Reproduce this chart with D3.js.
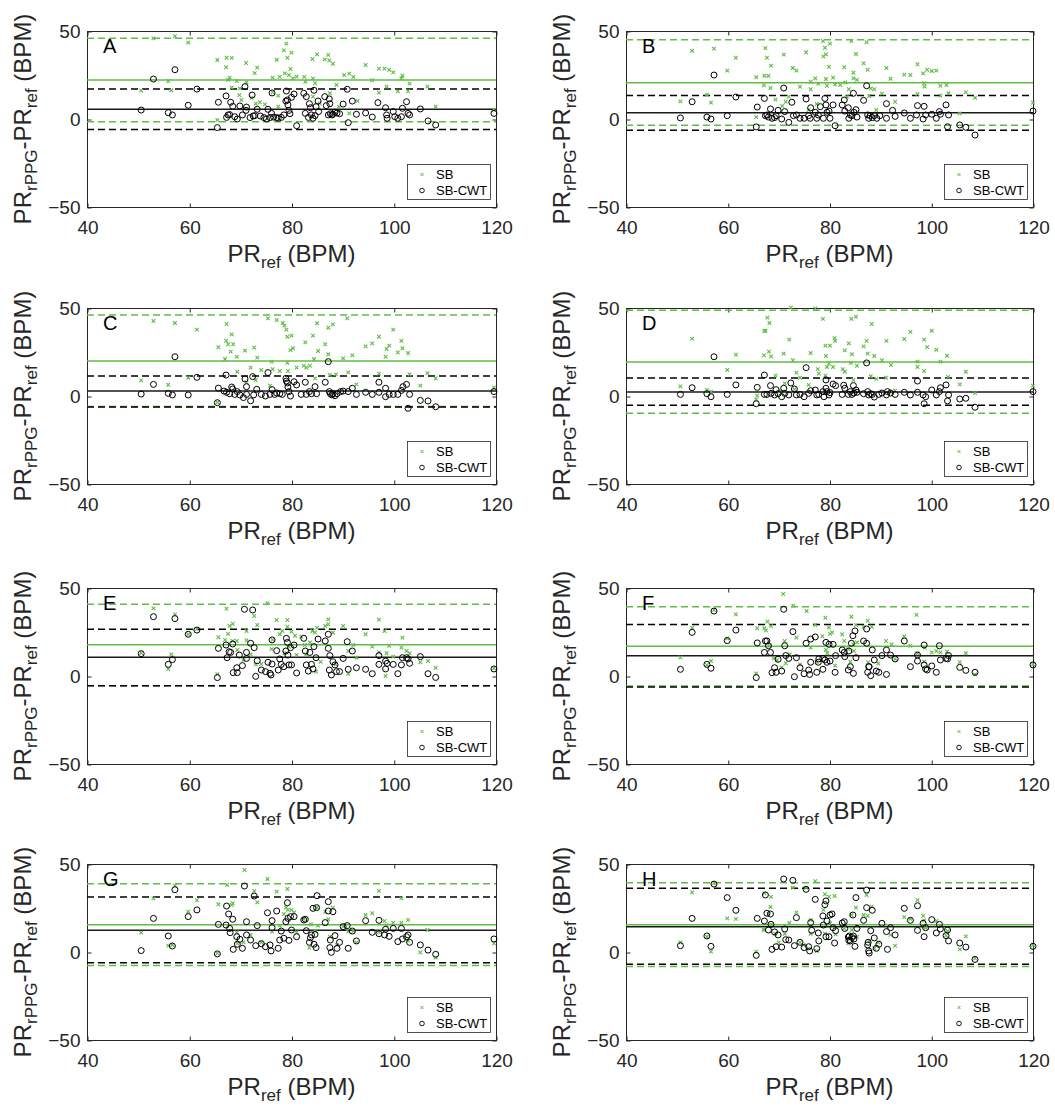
<!DOCTYPE html>
<html><head><meta charset="utf-8">
<script src="https://cdn.jsdelivr.net/npm/d3@7"></script>
<style>
body{margin:0;background:#fff;}
svg{display:block;}
text{font-family:"Liberation Sans",Arial,Helvetica,sans-serif;white-space:pre;}
</style>
</head><body>
<svg id="c" width="1055" height="1107"></svg>
<script>
// ---------- DATA ----------
const xTicks = [40, 60, 80, 100, 120];
const yTicks = [-50, 0, 50];
const panelLabels = ["A", "B", "C", "D", "E", "F", "G", "H"];
const seriesNames = ["SB", "SB-CWT"];

// Bland-Altman lines (bias and limits of agreement) per panel
const sbMean   = [22.2, 20.6, 19.9, 19.3, 17.8, 16.9, 15.5, 15.5];
const sbUpper  = [45.9, 45.0, 46.0, 48.7, 40.7, 39.4, 38.8, 39.4];
const sbLower  = [-1.5, -3.6, -6.0, -9.8, -5.5, -5.7, -7.6, -8.3];
const cwtMean  = [5.5, 3.6, 2.8, 2.3, 10.6, 11.5, 12.3, 14.4];
const cwtUpper = [17.0, 13.4, 11.4, 10.2, 26.5, 29.2, 31.3, 36.2];
const cwtLower = [-5.9, -6.4, -6.2, -5.3, -5.5, -6.3, -6.1, -7.0];

// points: [PR_ref, PR_rPPG - PR_ref]
const sbA = [[50.6,16.1],[53.0,45.8],[55.9,21.6],[56.5,16.3],[57.2,47.0],[59.8,43.4],[65.5,33.5],[65.5,-0.6],[67.2,29.4],[67.3,34.8],[67.6,22.2],[67.9,23.5],[68.3,34.7],[68.3,17.8],[69.3,21.6],[69.8,13.6],[69.9,17.4],[70.2,10.8],[71.1,31.8],[71.2,20.8],[72.2,12.1],[72.8,26.1],[73.3,29.2],[73.0,8.7],[73.8,9.5],[74.8,8.3],[76.3,23.5],[76.3,15.2],[77.1,33.7],[77.4,13.3],[77.7,23.9],[77.4,7.0],[78.5,39.0],[78.7,25.9],[79.0,42.8],[79.2,34.8],[79.5,25.0],[79.8,28.4],[80.0,37.7],[80.3,23.1],[81.0,24.1],[82.5,23.9],[82.7,21.2],[84.1,34.1],[84.2,23.1],[84.6,20.3],[85.0,36.7],[84.2,12.7],[85.5,8.9],[86.5,33.9],[87.2,36.4],[87.4,33.3],[88.1,31.4],[87.5,14.6],[88.8,19.3],[89.3,7.0],[90.3,25.0],[91.3,25.8],[92.1,23.9],[91.3,3.2],[92.9,10.2],[94.5,30.7],[95.8,22.0],[97.1,28.6],[97.1,15.0],[98.2,28.6],[98.6,18.4],[99.1,28.0],[99.9,26.5],[100.8,15.7],[101.5,23.1],[101.7,24.6],[102.8,15.9],[103.1,20.1],[106.6,18.4],[108.2,7.0],[119.6,5.1]];
const cwtA = [[50.6,5.1],[53.0,22.7],[55.9,3.6],[56.7,2.3],[57.2,28.0],[59.8,7.8],[61.5,17.0],[65.5,-4.9],[65.7,9.5],[67.2,13.1],[67.3,0.9],[67.6,2.3],[67.9,2.5],[68.1,9.5],[68.5,7.2],[68.9,1.3],[69.4,0],[69.9,7.4],[70.4,2.3],[70.9,18.4],[71.2,6.8],[71.1,4.9],[71.9,0.8],[72.3,13.6],[72.5,1.7],[72.8,1.9],[73.3,5.5],[73.9,1.7],[74.6,0.8],[75.1,0],[75.4,5.5],[75.8,0.8],[76.1,3.2],[76.2,14.8],[76.5,1.1],[77.1,0.8],[77.4,0.4],[78.0,0.9],[78.5,2.3],[78.9,10.2],[79.0,15.9],[79.2,10.8],[79.3,8.0],[79.5,4.9],[79.7,3.0],[80.0,12.3],[80.5,14.2],[81.0,-3.8],[82.4,14.6],[82.7,3.2],[82.9,12.7],[83.3,0.9],[83.5,8.7],[83.7,6.4],[83.9,2.3],[84.2,0.4],[84.4,16.3],[84.6,1.9],[84.8,7.0],[85.2,10.2],[85.3,4.2],[86.5,12.7],[86.8,7.6],[87.2,2.3],[87.4,11.4],[87.5,8.7],[87.6,3.0],[87.9,2.3],[88.1,2.7],[88.5,3.8],[88.9,3.4],[89.4,3.0],[90.1,8.5],[90.9,16.9],[91.1,-2.1],[91.9,10.2],[92.7,2.7],[94.5,3.4],[95.8,1.1],[96.9,9.3],[98.4,6.4],[98.6,2.3],[98.7,0.4],[99.9,4.2],[100.2,1.3],[100.8,0.4],[101.5,1.3],[101.7,6.1],[102.5,9.8],[102.8,3.2],[103.1,2.3],[105.2,5.7],[106.7,-1.1],[108.2,-3.4],[119.6,3.2]];

const sbB = [[50.7,10.0],[53.0,38.8],[55.9,13.8],[56.7,9.3],[57.3,40.0],[59.9,27.5],[61.6,34.8],[65.6,23.7],[65.6,1.1],[67.2,24.6],[67.4,40.3],[67.7,34.8],[68.0,24.6],[68.5,30.3],[67.1,19.1],[68.4,17.6],[69.4,11.0],[70.7,7.4],[71.0,36.6],[71.4,9.8],[72.0,12.7],[72.8,29.0],[73.5,27.5],[74.2,18.4],[75.4,37.9],[75.9,5.1],[76.3,16.9],[76.3,21.2],[77.2,23.1],[77.5,8.5],[77.8,20.1],[78.7,44.3],[78.8,35.6],[79.1,40.5],[79.3,36.7],[79.3,22.7],[79.5,18.9],[79.9,29.7],[80.1,42.8],[80.7,23.5],[81.1,19.7],[82.1,19.3],[82.9,29.4],[83.1,20.8],[83.4,12.7],[84.3,44.3],[84.7,26.3],[84.7,23.1],[85.2,36.9],[85.4,22.2],[83.8,16.9],[86.7,31.6],[87.3,43.6],[87.5,28.0],[87.8,13.1],[88.1,17.4],[88.8,16.9],[89.2,5.1],[90.3,14.4],[91.2,29.0],[92.0,22.9],[92.9,9.8],[94.7,25.2],[95.9,25.0],[97.3,31.1],[97.3,14.2],[98.4,25.9],[98.6,20.3],[98.7,18.4],[99.2,28.0],[100.1,27.3],[101.0,27.5],[101.8,18.9],[101.8,13.3],[103.0,19.3],[103.4,14.6],[105.6,3.2],[106.8,15.2],[108.6,12.1],[120.0,9.3]];
const cwtB = [[50.7,0.6],[53.0,9.8],[55.9,1.1],[56.7,0],[57.3,25.0],[59.9,1.9],[61.6,12.5],[65.6,-4.5],[65.8,6.8],[67.2,11.7],[67.4,1.9],[67.7,2.3],[68.0,1.1],[68.4,5.7],[68.7,0.4],[69.2,0.8],[69.5,1.9],[69.9,4.9],[70.6,0],[71.0,17.6],[71.2,4.2],[72.0,-1.9],[72.6,9.5],[72.9,1.9],[73.5,2.3],[74.2,0.4],[75.0,0.4],[75.4,11.4],[75.9,1.9],[76.2,0.4],[76.3,6.4],[77.2,3.8],[77.5,0.4],[77.8,2.3],[78.2,7.0],[78.8,0.4],[79.1,11.7],[79.3,8.0],[79.5,3.8],[79.9,4.5],[80.1,0.4],[80.7,8.0],[81.1,-3.8],[82.5,8.0],[82.9,10.8],[83.0,4.5],[83.7,6.4],[83.8,0.4],[84.1,2.3],[84.4,1.9],[84.7,14.6],[84.8,3.8],[85.2,5.3],[85.4,1.1],[86.7,10.6],[87.3,18.9],[87.5,2.3],[87.7,0.4],[88.0,1.9],[88.4,0.8],[88.8,1.9],[89.3,0.4],[89.9,1.9],[91.2,8.7],[91.2,0.4],[92.4,4.9],[92.9,1.5],[94.7,3.4],[95.9,0.4],[97.1,2.3],[97.3,7.6],[98.4,0],[98.6,7.2],[98.9,2.3],[100.1,2.7],[101.0,0.4],[101.6,4.2],[101.8,2.7],[102.9,8.0],[103.2,-4.4],[103.4,2.3],[105.6,-3.4],[106.8,-4.7],[108.6,-9.1],[120.0,4.5]];

const sbC = [[50.6,8.9],[53.0,42.6],[55.9,6.4],[57.2,41.5],[59.8,10.4],[61.5,37.7],[65.5,-3.6],[65.7,27.7],[67.0,21.0],[67.3,40.9],[67.2,31.4],[67.6,29.4],[68.1,25.2],[68.3,35.0],[68.6,29.4],[69.3,22.3],[69.4,13.8],[70.9,25.8],[71.2,7.8],[72.0,16.1],[72.7,27.5],[73.0,9.1],[73.3,21.8],[74.1,14.8],[75.4,44.1],[75.8,5.9],[76.1,19.5],[76.3,15.2],[77.1,43.2],[77.7,14.2],[78.3,41.5],[78.6,40.0],[79.0,37.7],[79.2,33.7],[79.2,18.9],[79.3,14.2],[79.8,26.1],[80.0,34.3],[80.3,27.1],[81.0,16.1],[82.4,17.2],[82.7,30.5],[82.9,16.1],[83.6,17.2],[84.2,34.3],[84.4,21.0],[85.0,41.3],[85.2,25.6],[84.6,10.0],[86.6,29.4],[87.2,38.8],[88.1,40.7],[87.2,23.7],[87.5,11.9],[88.7,12.3],[90.1,21.4],[90.9,44.1],[91.1,13.4],[91.9,23.1],[92.7,6.6],[94.5,28.2],[95.8,29.9],[97.1,33.7],[97.1,12.7],[98.4,22.3],[98.6,26.7],[99.1,28.6],[99.9,37.7],[100.8,24.8],[101.5,31.3],[101.7,27.1],[102.8,24.4],[103.1,12.3],[105.2,5.9],[106.6,12.9],[108.2,10.0],[119.6,4.7]];
const cwtC = [[50.6,1.1],[53.0,6.6],[55.9,1.5],[56.7,0.6],[57.2,22.3],[59.8,0.6],[61.5,10.6],[65.5,-3.8],[65.7,4.5],[67.2,11.9],[66.8,2.8],[67.3,2.1],[67.9,1.3],[68.3,5.1],[68.5,4.0],[68.9,0.9],[69.4,2.5],[69.9,0.6],[70.6,-0.9],[70.9,9.7],[71.2,0.9],[71.2,5.3],[72.0,-2.7],[72.4,11.0],[72.6,0.6],[73.2,3.8],[74.1,0.9],[74.9,0],[75.4,13.3],[75.8,0.9],[76.2,3.6],[76.7,0.9],[77.1,1.7],[77.7,1.3],[78.2,0.9],[78.9,10.0],[79.0,8.5],[79.2,7.4],[79.3,5.1],[79.5,2.5],[79.8,0],[80.5,8.1],[81.0,6.3],[81.9,0.9],[82.7,7.8],[82.9,0.9],[83.5,2.5],[83.9,1.3],[84.6,5.3],[84.9,1.3],[86.6,7.8],[87.2,19.5],[87.4,2.5],[87.6,1.3],[87.9,0.6],[88.1,1.3],[88.5,0.2],[88.9,1.3],[89.6,2.5],[90.1,2.8],[91.1,2.5],[91.9,4.4],[92.7,0.9],[94.5,2.1],[95.8,0.9],[97.1,7.8],[97.1,2.1],[98.4,4.4],[98.4,-0.4],[99.1,0.9],[99.9,0.9],[100.8,0.9],[101.5,3.2],[101.8,5.3],[102.5,6.6],[102.8,-7.0],[103.1,0.9],[105.2,-2.5],[106.7,-2.8],[108.2,-6.1],[119.6,2.5]];

const sbD = [[50.7,5.5],[53.0,32.6],[55.9,3.4],[56.7,2.5],[59.9,14.8],[61.6,23.5],[65.6,-1.9],[65.8,0.2],[67.1,23.1],[67.2,36.9],[67.4,37.1],[67.8,44.5],[68.2,41.5],[68.1,25.2],[68.5,22.5],[69.4,11.6],[70.3,2.8],[71.0,24.1],[71.2,7.2],[72.1,32.0],[72.4,50.2],[72.8,20.3],[73.5,13.3],[74.2,10.4],[73.1,3.8],[75.9,6.3],[76.3,24.4],[77.2,49.8],[77.7,15.3],[77.9,12.7],[78.7,43.8],[79.2,28.6],[79.3,22.7],[79.5,16.5],[79.2,11.6],[79.9,18.4],[80.1,28.6],[81.0,32.8],[81.1,31.3],[80.7,16.5],[83.0,25.9],[82.6,15.3],[83.0,13.8],[83.8,29.9],[84.3,43.8],[85.2,45.1],[84.4,23.7],[84.2,18.9],[85.4,17.2],[84.7,9.1],[86.7,28.2],[87.3,31.3],[87.5,24.1],[88.3,40.9],[88.8,22.7],[88.1,11.2],[89.2,9.7],[90.3,20.3],[91.1,10.4],[91.2,31.3],[92.1,17.6],[92.9,3.0],[94.7,32.4],[95.9,36.4],[97.3,19.5],[97.3,16.5],[98.6,14.2],[98.6,32.0],[99.2,27.8],[100.1,37.1],[101.0,26.3],[101.8,19.5],[103.1,22.9],[103.3,10.8],[105.6,6.6],[106.8,13.8],[108.6,1.7],[120.0,5.9]];
const cwtD = [[50.7,0.9],[53.0,4.7],[55.9,1.3],[56.7,-0.4],[57.3,22.3],[59.9,0.9],[61.6,6.3],[65.6,-4.4],[65.8,4.9],[67.2,11.9],[67.2,0.9],[67.7,0.9],[68.4,5.9],[68.5,1.5],[69.2,0.6],[69.5,3.6],[69.9,1.3],[70.6,-0.4],[71.0,4.4],[71.2,1.5],[72.0,0.6],[72.4,7.4],[73.1,4.0],[73.5,0.6],[74.2,0.9],[75.0,-0.4],[75.4,16.1],[75.9,1.5],[76.3,3.0],[77.2,3.4],[77.5,0.6],[77.9,0.9],[78.7,2.5],[78.9,-0.4],[79.3,9.1],[79.3,4.4],[79.5,2.5],[79.9,0.6],[80.1,1.9],[80.7,6.8],[81.2,5.9],[82.5,0.9],[82.8,6.1],[83.0,4.4],[83.7,0.9],[84.1,2.5],[84.4,0.9],[84.7,5.9],[84.8,1.7],[85.2,3.4],[85.4,2.1],[86.7,1.3],[87.3,18.8],[87.5,2.5],[87.7,0.6],[88.1,1.3],[88.4,0.9],[88.8,-0.6],[89.7,0.9],[90.3,1.7],[91.2,0.6],[91.4,2.5],[92.0,1.7],[92.9,0.9],[94.7,2.1],[95.9,0.6],[97.3,2.1],[97.3,8.5],[98.4,0.6],[98.6,-4.4],[98.9,-0.4],[100.1,3.4],[101.0,0.6],[101.6,2.5],[101.8,4.7],[102.9,6.3],[103.2,-2.8],[103.4,0.6],[105.6,-1.7],[106.8,-1.3],[108.6,-6.4],[120.0,2.5]];

const sbE = [[50.6,13.1],[53.0,38.4],[55.9,4.0],[56.5,12.3],[57.2,35.0],[59.8,23.7],[61.5,26.7],[65.5,1.1],[65.7,22.0],[67.0,20.5],[67.3,38.3],[67.6,23.9],[67.9,28.4],[68.5,29.7],[68.5,19.9],[69.3,19.9],[69.4,14.8],[70.6,9.1],[71.2,25.6],[71.2,20.3],[72.0,12.3],[72.7,34.1],[73.3,29.0],[73.0,6.6],[74.1,6.8],[75.3,41.3],[76.1,15.3],[76.3,20.5],[77.1,31.8],[77.7,23.7],[78.2,25.6],[78.6,12.9],[79.2,31.8],[79.2,28.0],[79.5,16.7],[80.0,25.2],[80.7,22.9],[81.0,11.9],[81.9,22.3],[82.6,17.6],[82.9,12.3],[83.6,19.1],[84.1,25.6],[84.6,24.8],[85.0,27.5],[84.8,2.5],[85.7,8.1],[86.6,28.4],[87.2,32.2],[87.2,29.4],[88.1,24.6],[88.6,6.6],[90.1,28.4],[91.1,14.2],[91.1,1.3],[92.1,17.6],[92.7,10.4],[94.5,23.7],[95.8,16.7],[97.1,32.0],[97.1,13.4],[98.2,25.6],[98.4,0],[98.6,12.9],[99.1,17.2],[99.9,11.0],[101.5,16.1],[101.7,21.8],[102.5,14.2],[103.1,12.9],[105.2,7.8],[106.7,8.5],[108.2,4.7],[119.6,4.4]];
const cwtE = [[50.6,12.7],[53.0,33.7],[55.9,6.6],[56.7,9.3],[57.2,32.6],[59.8,23.7],[61.5,26.1],[65.5,-0.9],[65.7,15.7],[67.2,17.6],[67.4,10.4],[67.8,13.8],[68.1,13.4],[68.5,18.2],[68.6,1.9],[69.3,4.7],[69.4,1.9],[69.8,11.9],[70.4,5.9],[70.8,37.9],[71.2,10.0],[71.2,13.4],[72.0,18.6],[72.4,37.5],[72.7,16.1],[73.0,-0.2],[73.3,8.7],[74.1,3.4],[74.9,2.5],[75.4,7.8],[75.8,1.5],[76.0,0.6],[76.2,20.5],[76.2,6.8],[77.1,14.4],[77.4,3.4],[77.7,9.7],[78.0,6.6],[78.5,5.3],[78.9,14.2],[79.0,21.4],[79.2,19.1],[79.3,11.9],[79.5,6.3],[79.8,16.1],[80.0,6.3],[80.5,17.6],[81.0,1.7],[82.4,21.4],[82.7,14.2],[82.9,6.3],[83.3,2.8],[83.6,13.4],[83.9,6.6],[84.2,4.0],[84.4,16.7],[84.8,10.4],[85.2,21.0],[86.6,19.9],[87.2,23.7],[87.2,15.7],[87.5,11.6],[87.4,3.4],[87.8,0.6],[88.1,8.1],[88.5,6.3],[88.8,2.5],[89.4,2.5],[90.1,10.0],[90.9,19.5],[91.1,3.8],[91.9,14.2],[92.7,4.7],[94.5,3.8],[95.8,1.3],[97.1,11.6],[97.1,6.6],[98.4,8.5],[98.4,4.0],[98.7,7.2],[99.9,6.6],[100.8,1.3],[101.5,6.3],[101.7,10.4],[102.5,10.4],[102.8,9.7],[103.1,7.2],[105.2,11.0],[106.7,1.3],[108.2,-0.8],[119.6,4.0]];

const sbF = [[50.7,10.6],[53.0,27.5],[55.9,6.3],[56.7,8.5],[57.3,37.5],[59.9,21.4],[61.6,35.0],[65.6,1.5],[65.8,27.1],[67.2,27.1],[67.8,30.9],[68.5,28.4],[67.5,25.9],[68.2,17.2],[69.0,10.0],[69.7,9.1],[70.6,4.9],[70.9,46.6],[71.2,19.9],[71.4,7.2],[72.2,12.3],[72.9,40.0],[73.5,21.8],[74.2,6.6],[75.5,36.9],[76.3,16.1],[77.2,29.0],[77.5,7.8],[78.6,22.5],[79.2,33.1],[79.3,14.8],[79.9,27.5],[80.1,23.9],[80.5,24.8],[79.6,12.9],[81.1,5.9],[82.5,23.7],[82.9,19.9],[83.7,15.3],[84.3,33.7],[84.7,18.0],[84.8,14.2],[85.2,29.0],[85.4,19.1],[84.1,8.1],[86.7,28.0],[87.5,31.4],[88.3,28.0],[87.6,7.8],[89.6,7.2],[91.1,19.9],[92.2,18.0],[92.9,9.7],[94.7,22.5],[95.9,17.2],[97.1,34.7],[97.3,12.9],[98.6,8.1],[98.7,16.1],[100.1,13.4],[101.0,14.2],[101.8,13.4],[103.1,13.8],[105.6,7.8],[106.8,12.9],[108.6,0.9],[120.0,6.6]];
const cwtF = [[50.7,3.8],[53.0,24.8],[55.9,6.6],[56.7,4.4],[57.3,36.9],[59.9,20.1],[61.6,26.1],[65.6,-0.9],[65.8,18.8],[67.2,13.4],[67.4,19.9],[67.7,19.9],[68.0,17.2],[68.4,13.4],[68.7,1.9],[69.2,4.7],[69.5,2.1],[69.9,9.5],[70.6,2.8],[71.0,37.9],[71.2,17.2],[71.4,11.6],[72.0,10.0],[72.8,25.2],[73.1,-0.4],[73.5,10.4],[74.2,4.7],[75.0,1.3],[75.4,18.6],[75.9,3.4],[76.1,0.9],[76.3,21.0],[76.3,7.8],[77.2,22.2],[77.5,2.1],[77.8,7.8],[77.9,9.7],[78.7,3.8],[78.7,10.0],[79.1,9.1],[79.3,19.1],[79.5,7.8],[79.9,18.0],[80.1,8.5],[80.7,18.0],[81.1,2.1],[81.2,11.6],[82.5,14.8],[82.9,13.4],[83.0,11.0],[83.7,3.4],[83.8,14.2],[84.1,5.3],[84.3,18.6],[84.6,22.9],[84.7,1.5],[85.0,25.6],[85.2,10.4],[86.7,19.9],[87.3,26.7],[87.3,18.6],[87.5,2.1],[87.7,5.3],[87.8,5.3],[88.1,0.2],[88.4,14.8],[88.8,9.1],[89.2,2.8],[89.7,2.1],[90.3,11.6],[91.2,14.8],[91.2,0.9],[92.0,11.9],[92.9,9.7],[94.7,19.9],[95.9,5.3],[97.3,8.5],[97.3,11.9],[98.6,6.3],[98.6,17.6],[98.9,4.0],[99.2,3.4],[100.1,5.7],[101.0,2.1],[101.6,17.2],[101.8,9.1],[102.9,10.0],[103.2,9.7],[103.4,11.6],[105.6,4.9],[106.8,3.2],[108.6,2.1],[120.0,6.3]];

const sbG = [[50.6,11.0],[53.0,30.5],[55.9,3.6],[56.7,4.0],[57.2,37.7],[59.8,22.9],[61.5,29.4],[65.5,-0.8],[65.7,27.1],[67.4,38.1],[68.3,26.7],[68.5,27.7],[69.3,11.2],[69.4,4.9],[70.6,5.5],[70.8,46.6],[72.0,9.7],[72.7,34.7],[73.3,28.2],[74.1,5.5],[75.3,41.5],[76.2,11.6],[77.1,34.3],[77.7,15.0],[78.5,21.6],[79.2,35.8],[78.9,25.2],[79.3,23.9],[80.0,23.9],[80.5,22.5],[81.0,11.2],[82.4,18.8],[83.5,2.5],[83.8,15.7],[84.6,11.9],[85.0,25.2],[85.2,15.0],[86.6,22.9],[87.2,18.6],[87.5,8.7],[88.1,25.2],[88.9,4.0],[90.1,14.4],[91.1,11.6],[92.1,11.9],[92.7,5.5],[94.5,21.0],[95.8,22.0],[97.1,34.7],[97.1,11.2],[98.2,17.6],[98.6,15.3],[99.9,16.7],[101.5,30.5],[101.5,16.7],[102.8,18.2],[102.8,6.3],[105.2,-0.2],[106.6,12.5],[108.2,-3.2],[119.6,4.9]];
const cwtG = [[50.6,0.8],[53.0,19.1],[55.9,9.1],[56.7,3.4],[57.2,35.4],[59.8,20.1],[61.5,23.9],[65.5,-1.1],[65.7,15.7],[67.2,15.3],[67.3,26.1],[67.7,21.6],[67.9,13.4],[68.0,11.0],[68.5,18.6],[68.6,1.5],[69.3,8.7],[69.4,4.4],[69.9,7.2],[70.4,2.1],[70.8,37.5],[71.2,17.2],[71.2,9.7],[72.0,6.8],[72.7,31.8],[73.0,3.6],[73.3,15.0],[74.1,4.7],[74.9,3.0],[75.3,22.3],[75.8,4.0],[76.0,0.6],[76.2,17.8],[76.2,13.8],[77.1,23.3],[77.4,2.1],[77.7,6.8],[78.0,11.9],[78.5,7.8],[78.9,17.2],[79.2,28.0],[79.3,19.1],[79.5,6.6],[79.8,20.1],[80.0,12.5],[80.5,20.1],[81.0,8.7],[82.4,18.2],[82.7,18.6],[82.9,12.1],[83.5,5.5],[83.7,8.1],[83.9,9.7],[84.2,24.8],[84.4,4.4],[84.6,10.0],[84.8,2.5],[84.9,25.2],[85.0,32.0],[86.6,16.7],[87.2,28.6],[87.2,23.3],[87.5,2.5],[87.6,6.8],[87.8,-0.2],[88.1,22.9],[88.5,9.3],[88.9,2.1],[89.4,5.5],[90.1,14.4],[90.9,15.0],[91.1,2.1],[91.9,11.9],[92.7,6.3],[94.5,17.8],[95.8,11.2],[97.1,18.0],[97.1,10.4],[98.2,9.7],[98.4,12.9],[99.1,8.9],[99.9,13.4],[100.8,5.9],[101.5,13.4],[101.7,7.4],[102.5,8.7],[102.8,9.7],[103.1,5.5],[105.2,4.0],[106.7,1.1],[108.2,-1.3],[119.6,7.4]];

const sbH = [[50.7,5.5],[53.0,33.9],[55.9,8.7],[56.7,0.2],[57.3,39.0],[59.9,19.1],[61.6,18.8],[65.6,0.2],[67.1,12.9],[67.2,33.3],[68.5,31.3],[68.4,25.6],[68.0,21.8],[68.5,15.7],[67.1,12.5],[69.3,10.4],[70.0,5.5],[71.2,10.4],[72.1,16.5],[72.8,36.6],[73.5,22.5],[74.2,5.5],[74.9,4.0],[75.4,36.6],[76.3,18.2],[76.3,10.4],[77.2,40.3],[77.5,0.6],[78.8,23.9],[79.1,32.8],[79.9,31.4],[80.1,16.3],[79.1,10.4],[81.0,31.8],[81.2,10.0],[82.9,13.4],[84.3,21.0],[84.4,12.5],[85.2,25.2],[85.4,8.7],[83.7,4.9],[86.7,21.0],[87.3,32.4],[87.5,20.6],[88.3,25.8],[87.8,6.3],[88.8,2.1],[89.6,5.5],[92.0,9.7],[92.9,3.6],[94.7,19.9],[95.9,18.8],[97.3,29.5],[98.4,20.6],[98.6,18.0],[98.9,13.8],[101.0,17.6],[102.9,9.3],[103.2,11.9],[105.6,1.5],[106.8,8.9],[108.6,-3.6],[120.0,4.0]];
const cwtH = [[50.7,3.6],[53.0,19.1],[55.9,9.1],[56.7,3.2],[57.3,38.6],[59.9,30.9],[61.6,23.7],[65.6,-1.9],[65.8,19.1],[67.2,17.6],[67.4,32.4],[67.7,22.0],[68.0,12.5],[68.4,21.6],[68.5,15.7],[68.7,1.5],[69.2,11.4],[69.5,3.0],[69.9,9.7],[70.6,2.8],[71.0,41.5],[71.2,13.1],[71.4,7.0],[72.0,6.8],[72.8,40.7],[73.1,3.6],[73.5,19.5],[74.2,5.5],[75.0,2.5],[75.4,35.6],[75.9,3.0],[76.1,0.6],[76.3,16.7],[76.5,12.3],[77.2,29.9],[77.5,1.9],[77.8,10.8],[77.9,6.3],[78.7,20.5],[78.8,15.3],[79.1,26.9],[79.3,29.0],[79.3,8.7],[79.5,17.6],[79.9,8.7],[80.1,21.0],[80.5,21.6],[80.7,13.8],[81.0,5.1],[81.2,12.1],[82.5,16.5],[82.9,17.2],[83.0,13.4],[83.7,8.5],[83.8,6.6],[83.9,9.1],[84.1,6.3],[84.4,8.3],[84.6,21.0],[84.7,9.1],[84.8,7.4],[85.0,3.2],[85.2,30.9],[85.4,13.4],[86.7,18.0],[87.3,35.2],[87.3,25.2],[87.5,4.0],[87.6,5.5],[87.7,0.6],[87.8,-0.6],[88.1,12.1],[88.4,23.7],[88.8,8.0],[89.2,2.1],[89.7,4.4],[90.3,16.3],[91.2,11.6],[91.4,1.5],[92.0,13.8],[92.9,9.7],[94.7,24.8],[95.9,18.0],[97.3,26.3],[97.3,12.3],[98.4,16.3],[98.6,8.7],[98.9,13.8],[100.1,18.4],[101.0,10.8],[101.6,15.7],[101.8,13.1],[102.9,9.3],[103.2,12.5],[103.4,6.3],[105.6,5.1],[106.8,2.8],[108.6,-4.2],[120.0,3.2]];

const sbSeries  = [sbA, sbB, sbC, sbD, sbE, sbF, sbG, sbH];
const cwtSeries = [cwtA, cwtB, cwtC, cwtD, cwtE, cwtF, cwtG, cwtH];

// ---------- DRAW ----------
const GREEN = "#5fbd45", BLACK = "#000000", AX = "#262626";
const svg = d3.select("#c");
const colX = [87, 626], colW = [409, 407], rowY = [31, 308, 588, 864], PH = 176;

function crossPath(s){ return `M${-s},${-s}L${s},${s}M${-s},${s}L${s},${-s}`; }

panelLabels.forEach((lab, i) => {
  const col = i % 2, row = Math.floor(i / 2);
  const x0 = colX[col], w = colW[col], y0 = rowY[row];
  const x = d3.scaleLinear().domain([40, 120]).range([x0, x0 + w]);
  const y = d3.scaleLinear().domain([-50, 50]).range([y0 + PH, y0]);
  const g = svg.append("g");

  // box
  g.append("rect").attr("x", x0 + 0.5).attr("y", y0 + 0.5).attr("width", w).attr("height", PH)
    .attr("fill", "#fff").attr("stroke", AX).attr("stroke-width", 1);

  // axes
  const ax = (gen, tx, ty) => {
    const a = g.append("g").attr("transform", `translate(${tx},${ty})`).call(gen);
    a.select(".domain").remove();
    a.selectAll("line").attr("stroke", AX);
    a.selectAll("text").attr("fill", AX).attr("font-size", 19)
      .attr("font-family", '"Liberation Sans",Arial,Helvetica,sans-serif');
    return a;
  };
  ax(d3.axisBottom(x).tickValues(xTicks).tickSizeInner(-4).tickSizeOuter(0).tickPadding(13).tickFormat(d3.format("d")), 0.5, y0 + PH + 0.5);
  ax(d3.axisTop(x).tickValues(xTicks).tickSizeInner(-4).tickSizeOuter(0).tickFormat(""), 0.5, y0 + 0.5);
  ax(d3.axisLeft(y).tickValues(yTicks).tickSizeInner(-4).tickSizeOuter(0).tickPadding(7).tickFormat(d3.format("d")), x0 + 0.5, 0.5);
  ax(d3.axisRight(y).tickValues(yTicks).tickSizeInner(-4).tickSizeOuter(0).tickFormat(""), x0 + w + 0.5, 0.5);

  // reference lines
  const hline = (v, color, dashed) => {
    g.append("line").attr("x1", x(40)).attr("x2", x(120)).attr("y1", y(v)).attr("y2", y(v))
      .attr("stroke", color).attr("stroke-width", 1.5)
      .attr("stroke-dasharray", dashed ? "7,4" : null);
  };
  hline(sbUpper[i], GREEN, true);
  hline(sbLower[i], GREEN, true);
  hline(sbMean[i], GREEN, false);
  hline(cwtUpper[i], BLACK, true);
  hline(cwtLower[i], BLACK, true);
  hline(cwtMean[i], "#1a1a1a", false);

  // SB crosses
  g.append("g").selectAll("path").data(sbSeries[i]).join("path")
    .attr("d", crossPath(1.8))
    .attr("transform", d => `translate(${x(d[0])},${y(d[1])})`)
    .attr("stroke", GREEN).attr("stroke-width", 1.1).attr("fill", "none");

  // SB-CWT circles
  g.append("g").selectAll("circle").data(cwtSeries[i]).join("circle")
    .attr("cx", d => x(d[0])).attr("cy", d => y(d[1])).attr("r", 3)
    .attr("fill", "none").attr("stroke", BLACK).attr("stroke-width", 1);

  // panel letter
  g.append("text").attr("x", x0 + 16).attr("y", y0 + 22).attr("font-size", 20)
    .attr("fill", "#000").text(lab);

  // legend
  const lw = 83, lh = 35;
  const lx = x0 + w - 6 - lw, ly = y0 + PH - 8 - lh;
  const lg = g.append("g");
  lg.append("rect").attr("x", lx + 0.5).attr("y", ly + 0.5).attr("width", lw).attr("height", lh)
    .attr("fill", "#fff").attr("stroke", AX).attr("stroke-width", 0.8);
  lg.append("path").attr("d", crossPath(1.5)).attr("transform", `translate(${lx + 15},${ly + 10.5})`)
    .attr("stroke", GREEN).attr("stroke-width", 1).attr("fill", "none");
  lg.append("circle").attr("cx", lx + 15).attr("cy", ly + 26.5).attr("r", 2.3)
    .attr("fill", "none").attr("stroke", BLACK).attr("stroke-width", 0.9);
  seriesNames.forEach((s, k) => {
    lg.append("text").attr("x", lx + 29).attr("y", ly + 10.5 + k * 16).attr("dy", "0.35em")
      .attr("font-size", 13).attr("fill", "#000").text(s);
  });

  // x label
  const xl = g.append("text").attr("x", x0 + w / 2).attr("y", y0 + PH + 55)
    .attr("text-anchor", "middle").attr("font-size", 24).attr("fill", AX);
  xl.append("tspan").text("PR");
  xl.append("tspan").attr("font-size", 17).attr("dy", 6).text("ref");
  xl.append("tspan").attr("dy", -6).text(" (BPM)");

  // y label
  const yl = g.append("text").attr("transform", `translate(${x0 - 56},${y0 + PH / 2}) rotate(-90)`)
    .attr("text-anchor", "middle").attr("font-size", 24).attr("fill", AX);
  yl.append("tspan").text("PR");
  yl.append("tspan").attr("font-size", 17).attr("dy", 6).text("rPPG");
  yl.append("tspan").attr("dy", -6).text("-PR");
  yl.append("tspan").attr("font-size", 17).attr("dy", 6).text("ref");
  yl.append("tspan").attr("dy", -6).text(" (BPM)");
});
</script>
</body></html>
